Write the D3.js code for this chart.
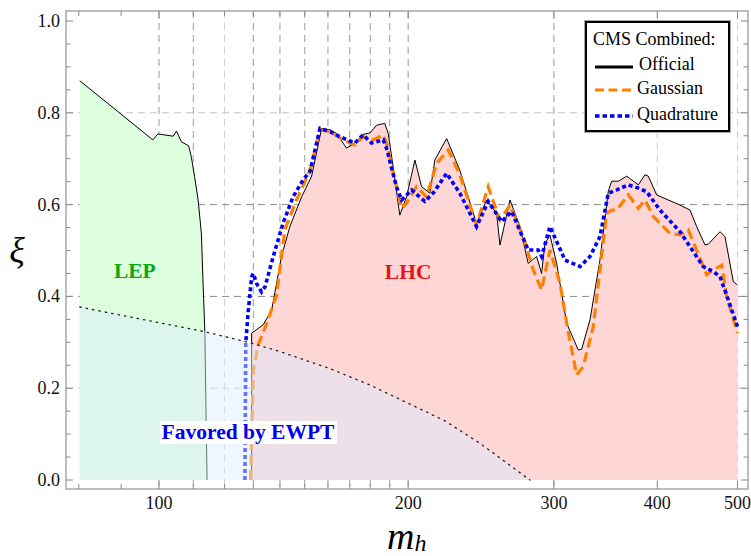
<!DOCTYPE html>
<html>
<head>
<meta charset="utf-8">
<script src="https://cdnjs.cloudflare.com/ajax/libs/d3/7.8.5/d3.min.js"></script>
<style>
body { margin: 0; background: #fff; }
svg text { font-family: "Liberation Serif", "Times New Roman", serif; }
</style>
</head>
<body>
<script>
// LEP exclusion (official)
var lepMass = [80.2, 98.3, 99.7, 104.0, 105.0, 106.4, 108.6, 109.4, 110.4, 111.5, 112.5, 113.0, 113.6, 114.3];
var lepXi   = [0.87, 0.741, 0.754, 0.749, 0.76, 0.737, 0.728, 0.704, 0.661, 0.61, 0.538, 0.436, 0.323, 0];

// LHC, CMS combined: official
var offMass = [129.4, 129.4, 133.6, 136.8, 140.6, 143.9, 148.7, 152.9, 157.2, 160.9, 163.9, 168.5, 172.4, 176.4, 179.8,
  183.2, 187.4, 189.2, 191.8, 195.4, 199.1, 203.8, 207.6, 212.5, 215.4, 222.6, 230.9, 241.9, 248.8, 255.8, 258.2,
  265.5, 273.0, 279.3, 285.9, 289.9, 292.6, 296.7, 302.3, 310.9, 321.1, 324.1, 331.7, 341.0, 349.0, 352.3, 358.9,
  367.4, 379.4, 386.5, 390.1, 399.3, 426.1, 438.1, 446.3, 456.8, 461.0, 476.3, 482.9, 494.2, 500];
var offXi   = [0, 0.32, 0.338, 0.37, 0.487, 0.552, 0.617, 0.662, 0.766, 0.763, 0.755, 0.723, 0.734, 0.753, 0.756,
  0.773, 0.777, 0.755, 0.683, 0.577, 0.617, 0.697, 0.639, 0.625, 0.697, 0.744, 0.675, 0.559, 0.61, 0.581, 0.512,
  0.61, 0.552, 0.472, 0.487, 0.45, 0.515, 0.534, 0.472, 0.341, 0.283, 0.285, 0.349, 0.479, 0.629, 0.651, 0.651,
  0.662, 0.643, 0.665, 0.662, 0.621, 0.599, 0.588, 0.552, 0.512, 0.514, 0.541, 0.53, 0.432, 0.425];

// Gaussian
var gauMass = [129.0, 130.0, 131.8, 134.9, 138.7, 141.9, 146.6, 152.2, 156.5, 160.9, 166.9, 172.4, 176.4, 181.4, 186.6,
  188.3, 193.6, 196.4, 199.1, 204.7, 210.5, 216.5, 223.6, 230.9, 241.9, 249.9, 258.2, 265.5, 275.5, 283.2, 289.9,
  296.7, 305.1, 312.2, 319.6, 325.5, 334.7, 347.4, 352.3, 357.3, 369.0, 379.4, 386.5, 395.6, 414.4, 426.1, 436.0,
  458.9, 467.5, 478.5, 485.2, 500];
var gauXi   = [0, 0.24, 0.294, 0.341, 0.403, 0.545, 0.61, 0.675, 0.763, 0.759, 0.741, 0.73, 0.748, 0.741, 0.752,
  0.734, 0.639, 0.592, 0.603, 0.639, 0.617, 0.69, 0.719, 0.665, 0.556, 0.639, 0.566, 0.599, 0.53, 0.458, 0.414,
  0.501, 0.429, 0.323, 0.229, 0.247, 0.334, 0.581, 0.588, 0.588, 0.621, 0.592, 0.61, 0.574, 0.537, 0.534, 0.545,
  0.447, 0.458, 0.468, 0.399, 0.32];

// Quadrature
var quaMass = [127.0, 127.3, 128.1, 129.4, 130.0, 131.2, 133.0, 134.3, 137.4, 141.2, 145.2, 149.3, 152.2, 156.5, 160.9,
  165.4, 172.4, 176.4, 180.6, 186.6, 188.3, 193.6, 196.4, 201.9, 209.5, 214.4, 222.6, 230.9, 241.9, 249.9, 259.4,
  266.7, 279.3, 287.2, 289.9, 296.7, 309.4, 322.6, 331.7, 341.0, 349.0, 357.3, 369.0, 379.4, 388.4, 403.0, 426.1,
  454.6, 467.5, 476.3, 487.4, 500];
var quaXi   = [0, 0.298, 0.363, 0.443, 0.45, 0.428, 0.41, 0.421, 0.487, 0.559, 0.617, 0.654, 0.672, 0.766, 0.759,
  0.748, 0.734, 0.752, 0.734, 0.741, 0.723, 0.639, 0.61, 0.632, 0.607, 0.625, 0.668, 0.625, 0.552, 0.607, 0.563,
  0.585, 0.501, 0.501, 0.487, 0.552, 0.479, 0.465, 0.487, 0.53, 0.625, 0.632, 0.643, 0.636, 0.628, 0.588, 0.541,
  0.465, 0.454, 0.443, 0.392, 0.334];

// region favored by EWPT (dotted boundary)
var ewMass = [80.2, 113.6, 127.6, 139.9, 161.3, 179.8, 221.5, 244.2, 280.6];
var ewXi   = [0.377, 0.323, 0.301, 0.28, 0.242, 0.207, 0.129, 0.08, 0];

var yTicks = [0, 0.2, 0.4, 0.6, 0.8, 1.0];
var xTicks = [100, 200, 300, 400, 500];
var xMinor = [80, 90, 110, 120, 130, 140, 150, 160, 170, 180, 190];
var gridDark = [100, 110, 130, 140, 150, 160, 170, 180, 190, 200, 300];
var gridLight = [120, 400, 500];
var seriesNames = ["Official", "Gaussian", "Quadrature"];

var width = 751, height = 556,
  padL = 66, padR = 748, padT = 11, padB = 489;

var x = d3.scaleLog().domain([77.2, 514.8]).range([padL, padR]);
var y = d3.scaleLinear().domain([-0.0196, 1.0218]).range([padB, padT]);

function pts(ms, vs) { return ms.map(function(m, i) { return [m, vs[i]]; }); }

var line = d3.line().x(function(d) { return x(d[0]); }).y(function(d) { return y(d[1]); });
var area = d3.area().x(function(d) { return x(d[0]); }).y0(y(0)).y1(function(d) { return y(d[1]); });

var svg = d3.select('body').append('svg')
  .attr('width', width)
  .attr('height', height);

// grid lines
var grid = svg.append('g').attr('fill', 'none').attr('stroke-dasharray', '7,5');
grid.selectAll('.gd').data(gridDark).enter().append('line')
  .attr('x1', function(d) { return x(d); }).attr('x2', function(d) { return x(d); })
  .attr('y1', padT).attr('y2', padB)
  .attr('stroke', '#9a9a9a').attr('stroke-width', 1);
grid.selectAll('.gl').data(gridLight).enter().append('line')
  .attr('x1', function(d) { return x(d); }).attr('x2', function(d) { return x(d); })
  .attr('y1', padT).attr('y2', padB)
  .attr('stroke', '#cfcfcf').attr('stroke-width', 1);
grid.selectAll('.gh').data([0.2, 0.4, 0.6, 0.8]).enter().append('line')
  .attr('x1', padL).attr('x2', padR)
  .attr('y1', function(d) { return y(d); }).attr('y2', function(d) { return y(d); })
  .attr('stroke', function(d) { return (d == 0.4 || d == 0.6) ? '#8a8a8a' : '#c4c4c4'; })
  .attr('stroke-width', 1);

// filled regions
var lep = pts(lepMass, lepXi);
lep.unshift([lepMass[0], 0]);
svg.append('path').datum(lep).attr('d', area).attr('fill', '#ddffdd');
svg.append('path').datum(pts(offMass, offXi)).attr('d', area).attr('fill', '#ffd6d6');

// curves
svg.append('path').datum(pts(lepMass, lepXi)).attr('d', line)
  .attr('fill', 'none').attr('stroke', '#000').attr('stroke-width', 1);
svg.append('path').datum(pts(offMass, offXi)).attr('d', line)
  .attr('fill', 'none').attr('stroke', '#000').attr('stroke-width', 1);
svg.append('path').datum(pts(gauMass, gauXi)).attr('d', line)
  .attr('fill', 'none').attr('stroke', '#ff8000').attr('stroke-width', 3.2)
  .attr('stroke-dasharray', '10,5');
svg.append('path').datum(pts(quaMass, quaXi)).attr('d', line)
  .attr('fill', 'none').attr('stroke', '#0000ff').attr('stroke-width', 3.6)
  .attr('stroke-dasharray', '4,3');

// EWPT region on top, translucent
var ew = pts(ewMass, ewXi);
ew.unshift([ewMass[0], 0]);
svg.append('path').datum(ew).attr('d', area)
  .attr('fill', 'rgb(219,236,255)').attr('fill-opacity', 0.47);
svg.append('path').datum(pts(ewMass, ewXi)).attr('d', line)
  .attr('fill', 'none').attr('stroke', '#222').attr('stroke-width', 1.3)
  .attr('stroke-dasharray', '1.5,5').attr('stroke-linecap', 'round');

// region labels
svg.append('text').attr('x', x(93.5)).attr('y', 278)
  .attr('text-anchor', 'middle').attr('font-size', 21.5).attr('font-weight', 'bold')
  .attr('fill', '#0ea60e').text('LEP');
svg.append('text').attr('x', x(200)).attr('y', 279)
  .attr('text-anchor', 'middle').attr('font-size', 21.5).attr('font-weight', 'bold')
  .attr('fill', '#ee1111').text('LHC');
svg.append('rect').attr('x', 160).attr('y', 421).attr('width', 177).attr('height', 23).attr('fill', '#fff');
svg.append('text').attr('x', 248).attr('y', 439)
  .attr('text-anchor', 'middle').attr('font-size', 21.5).attr('font-weight', 'bold')
  .attr('fill', '#0000ee').text('Favored by EWPT');

// frame and ticks
svg.append('rect').attr('x', padL).attr('y', padT)
  .attr('width', padR - padL).attr('height', padB - padT)
  .attr('fill', 'none').attr('stroke', '#9a9a9a').attr('stroke-width', 1.3);

var ticks = svg.append('g').attr('stroke', '#8a8a8a').attr('stroke-width', 1);
var yMinor = d3.range(0, 1.001, 0.05);
ticks.selectAll('.yl').data(yMinor).enter().append('line')
  .attr('x1', padL).attr('x2', function(d, i) { return padL + (i % 4 == 0 ? 7 : 4.5); })
  .attr('y1', function(d) { return y(d); }).attr('y2', function(d) { return y(d); });
ticks.selectAll('.yr').data(yMinor).enter().append('line')
  .attr('x1', padR).attr('x2', function(d, i) { return padR - (i % 4 == 0 ? 7 : 4.5); })
  .attr('y1', function(d) { return y(d); }).attr('y2', function(d) { return y(d); });
[padB, padT].forEach(function(yy) {
  var dir = yy == padB ? -1 : 1;
  ticks.selectAll(null).data(xTicks).enter().append('line')
    .attr('x1', function(d) { return x(d); }).attr('x2', function(d) { return x(d); })
    .attr('y1', yy).attr('y2', yy + dir * 8);
  ticks.selectAll(null).data(xMinor).enter().append('line')
    .attr('x1', function(d) { return x(d); }).attr('x2', function(d) { return x(d); })
    .attr('y1', yy).attr('y2', yy + dir * 5);
});

svg.append('g').selectAll('text').data(yTicks).enter().append('text')
  .attr('x', 60).attr('y', function(d) { return y(d) + 6; })
  .attr('text-anchor', 'end').attr('font-size', 18).attr('fill', '#111')
  .text(function(d) { return d.toFixed(1); });
svg.append('g').selectAll('text').data(xTicks).enter().append('text')
  .attr('x', function(d) { return x(d); }).attr('y', 509)
  .attr('text-anchor', 'middle').attr('font-size', 18).attr('fill', '#111')
  .text(function(d) { return d; });

// axis titles
svg.append('text').attr('x', 17).attr('y', 262)
  .attr('text-anchor', 'middle').attr('font-size', 36).attr('font-style', 'italic')
  .text('ξ');
var mh = svg.append('text').attr('x', 387).attr('y', 549)
  .attr('font-size', 38).attr('font-style', 'italic');
mh.append('tspan').text('m');
mh.append('tspan').attr('font-size', 24).attr('dy', 2).text('h');

// legend
var lg = svg.append('g');
lg.append('rect').attr('x', 586).attr('y', 22).attr('width', 143).attr('height', 109)
  .attr('fill', '#fff').attr('stroke', '#aaa').attr('stroke-width', 4);
lg.append('rect').attr('x', 586).attr('y', 22).attr('width', 143).attr('height', 109)
  .attr('fill', '#fff').attr('stroke', '#000').attr('stroke-width', 2);
lg.append('text').attr('x', 593).attr('y', 45).attr('font-size', 18).text('CMS Combined:');
var lgY = [67, 90, 116];
var lgStyle = [
  { c: '#000', w: 3, d: null },
  { c: '#ff8000', w: 3.2, d: '9,4.5' },
  { c: '#0000ff', w: 3.6, d: '4.5,3' }
];
seriesNames.forEach(function(name, i) {
  lg.append('line').attr('x1', 595).attr('x2', 633)
    .attr('y1', lgY[i]).attr('y2', lgY[i])
    .attr('stroke', lgStyle[i].c).attr('stroke-width', lgStyle[i].w)
    .attr('stroke-dasharray', lgStyle[i].d);
  lg.append('text').attr('x', i == 0 ? 639 : 637).attr('y', lgY[i] + 3 + (i == 0 ? 0 : 1))
    .attr('font-size', 18).text(name);
});
</script>
</body>
</html>
